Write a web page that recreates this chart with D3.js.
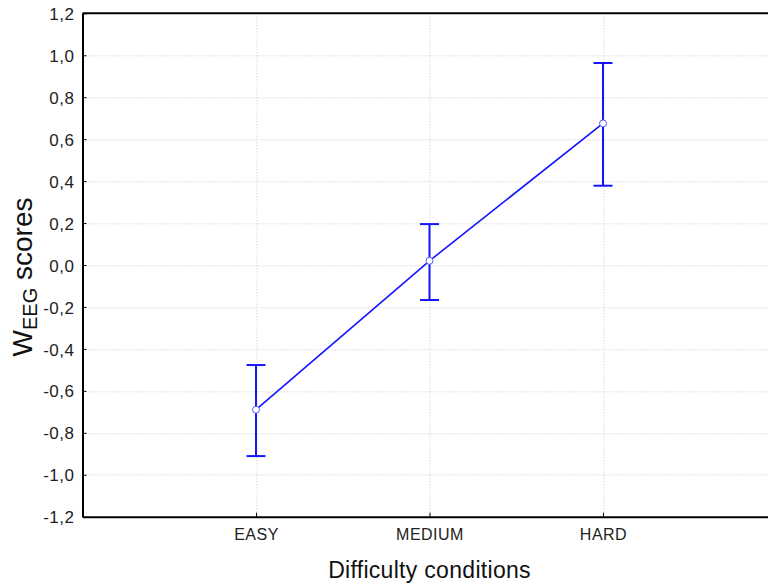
<!DOCTYPE html>
<meta charset="utf-8">
<head>
  <style>
    body { margin: 0; background: #fff; font-family: "Liberation Sans", Arial, sans-serif; }
    .grid line { stroke: #c8c8c8; stroke-width: 1; stroke-dasharray: 1,2; }
    .axis path, .axis line { stroke: #000; }
    .axis text { fill: #222; font-family: "Liberation Sans", Arial, sans-serif; }
  </style>
</head>
<body>
  <div class="chart"></div>
  <script src="https://d3js.org/d3.v7.min.js"></script>
  <script>
    // categories and values
    var conditions = ["EASY", "MEDIUM", "HARD"];
    var means = [-0.69, 0.02, 0.675];
    var upper = [-0.477, 0.195, 0.963];
    var lower = [-0.911, -0.167, 0.378];
    var yTicks = [-1.2, -1.0, -0.8, -0.6, -0.4, -0.2, 0.0, 0.2, 0.4, 0.6, 0.8, 1.0, 1.2];

    var data = conditions.map(function(c, i) {
      return { cond: c, mean: means[i], hi: upper[i], lo: lower[i] };
    });

    var W = 768, H = 587;
    var margin = { top: 13.3, left: 82.5 };
    var width = 694, height = 503.4;

    var svg = d3.select(".chart").append("svg")
        .attr("width", W)
        .attr("height", H);

    var g = svg.append("g")
        .attr("transform", "translate(" + margin.left + "," + margin.top + ")");

    // categories sit at 1..3 of a 0..4 range
    var x = d3.scalePoint()
        .domain(["_l"].concat(conditions, ["_r"]))
        .range([0, width]);

    var y = d3.scaleLinear()
        .domain([-1.2, 1.2])
        .range([height, 0]);

    var fmt = function(d) { return d3.format(".1f")(d).replace(".", ",").replace("−", "-"); };

    // grid
    g.append("g").attr("class", "grid")
      .selectAll("line")
      .data(yTicks.filter(function(t) { return t > -1.2 && t < 1.2; }))
      .enter().append("line")
        .attr("x1", 0).attr("x2", width)
        .attr("y1", function(d) { return Math.round(y(d)) + 0.5; })
        .attr("y2", function(d) { return Math.round(y(d)) + 0.5; });

    g.append("g").attr("class", "grid")
      .selectAll("line")
      .data(conditions)
      .enter().append("line")
        .attr("y1", 0).attr("y2", height)
        .attr("x1", function(d) { return Math.round(x(d)) + 0.5; })
        .attr("x2", function(d) { return Math.round(x(d)) + 0.5; });

    // y axis
    var yAxis = g.append("g").attr("class", "axis")
        .call(d3.axisLeft(y).tickValues(yTicks).tickFormat(fmt).tickSizeInner(-4).tickSizeOuter(0).tickPadding(8));
    yAxis.select(".domain").attr("stroke-width", 2);
    yAxis.selectAll("text").style("font-size", "17px").style("letter-spacing", "0.5px").attr("dy", "0.36em");

    // x axis
    var xAxis = g.append("g").attr("class", "axis")
        .attr("transform", "translate(0," + height + ")")
        .call(d3.axisBottom(x).tickValues(conditions).tickSizeInner(-4).tickSizeOuter(0).tickPadding(12));
    xAxis.select(".domain").attr("stroke-width", 2);
    xAxis.selectAll("text").style("font-size", "16px").style("letter-spacing", "0.5px");

    // top border
    g.append("line")
        .attr("x1", 0).attr("x2", width)
        .attr("y1", 0).attr("y2", 0)
        .attr("stroke", "#000").attr("stroke-width", 2);

    var blue = "#1414ff";

    // connecting line
    g.append("path")
        .datum(data)
        .attr("fill", "none")
        .attr("stroke", blue)
        .attr("stroke-width", 1.6)
        .attr("d", d3.line().x(function(d) { return x(d.cond); }).y(function(d) { return y(d.mean); }));

    // error bars
    var bars = g.selectAll(".err").data(data).enter().append("g").attr("class", "err");
    bars.append("line")
        .attr("x1", function(d) { return x(d.cond); })
        .attr("x2", function(d) { return x(d.cond); })
        .attr("y1", function(d) { return y(d.hi); })
        .attr("y2", function(d) { return y(d.lo); })
        .attr("stroke", blue).attr("stroke-width", 2);
    bars.append("line")
        .attr("x1", function(d) { return x(d.cond) - 9.5; })
        .attr("x2", function(d) { return x(d.cond) + 9.5; })
        .attr("y1", function(d) { return y(d.hi); })
        .attr("y2", function(d) { return y(d.hi); })
        .attr("stroke", blue).attr("stroke-width", 2);
    bars.append("line")
        .attr("x1", function(d) { return x(d.cond) - 9.5; })
        .attr("x2", function(d) { return x(d.cond) + 9.5; })
        .attr("y1", function(d) { return y(d.lo); })
        .attr("y2", function(d) { return y(d.lo); })
        .attr("stroke", blue).attr("stroke-width", 2);

    // markers
    g.selectAll(".dot").data(data).enter().append("circle")
        .attr("class", "dot")
        .attr("cx", function(d) { return x(d.cond); })
        .attr("cy", function(d) { return y(d.mean); })
        .attr("r", 3.5)
        .attr("fill", "#fff")
        .attr("stroke", "#5a5aff")
        .attr("stroke-width", 1);

    // axis titles
    svg.append("text")
        .attr("x", margin.left + x("MEDIUM"))
        .attr("y", 578)
        .attr("text-anchor", "middle")
        .style("font-size", "23px")
        .style("letter-spacing", "0.3px")
        .attr("fill", "#111")
        .text("Difficulty conditions");

    var yt = svg.append("text")
        .attr("transform", "translate(32,277) rotate(-90)")
        .attr("text-anchor", "middle")
        .style("font-size", "28px")
        .attr("fill", "#111");
    yt.append("tspan").text("W");
    yt.append("tspan").attr("dy", 5).style("font-size", "20px").text("EEG");
    yt.append("tspan").attr("dy", -5).text(" scores");
  </script>
</body>
